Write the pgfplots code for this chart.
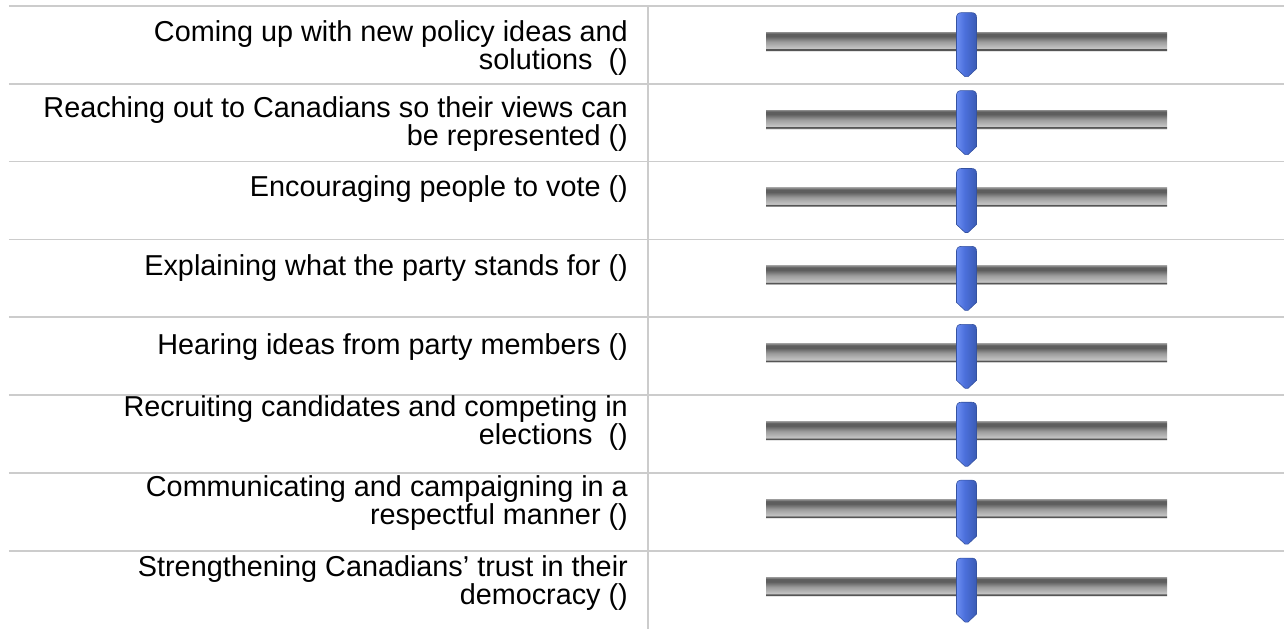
\documentclass[border=0pt]{standalone}
\usepackage{fontspec}
\setmainfont{Liberation Sans}
\usepackage{pgfplots}
\pgfplotsset{compat=1.18}

\definecolor{rulegray}{HTML}{CCCCCC}
\definecolor{thumbline}{HTML}{3552A0}
\definecolor{thumbL}{HTML}{6C8EF2}
\definecolor{thumbM}{HTML}{4C70DC}
\definecolor{thumbR}{HTML}{3A5BB4}
\definecolor{trkTop}{HTML}{8A8A8A}
\definecolor{trkDark}{HTML}{5E5E5E}
\definecolor{trkMid}{HTML}{9C9C9C}
\definecolor{trkLight}{HTML}{C4C4C4}
\definecolor{trkEdge}{HTML}{555555}
\definecolor{trkGlow}{HTML}{E4E4E4}

% grey slider track, bottom (25bp) to top (75bp)
\pgfdeclareverticalshading{trackshade}{100bp}{%
  color(0bp)=(trkGlow); color(25bp)=(trkGlow); color(27bp)=(trkGlow);
  color(28bp)=(trkEdge); color(31bp)=(trkEdge); color(33bp)=(trkLight);
  color(50bp)=(trkMid); color(64bp)=(trkDark); color(71bp)=(trkDark);
  color(75bp)=(trkTop); color(100bp)=(trkTop)}
% blue thumb, left (25bp) to right (75bp)
\pgfdeclarehorizontalshading{thumbshade}{100bp}{%
  color(0bp)=(thumbL); color(25bp)=(thumbL); color(45bp)=(thumbM);
  color(75bp)=(thumbR); color(100bp)=(thumbR)}

\pgfdeclareplotmark{thumb}{%
  \pgfpathmoveto{\pgfqpoint{-10pt}{-24pt}}%
  \pgfpathlineto{\pgfqpoint{-10pt}{27pt}}%
  \pgfpathquadraticcurveto{\pgfqpoint{-10pt}{32pt}}{\pgfqpoint{-5pt}{32pt}}%
  \pgfpathlineto{\pgfqpoint{5pt}{32pt}}%
  \pgfpathquadraticcurveto{\pgfqpoint{10pt}{32pt}}{\pgfqpoint{10pt}{27pt}}%
  \pgfpathlineto{\pgfqpoint{10pt}{-24pt}}%
  \pgfpathlineto{\pgfqpoint{1.5pt}{-32pt}}%
  \pgfpathlineto{\pgfqpoint{-1.5pt}{-32pt}}%
  \pgfpathclose
  \pgfshadepath{thumbshade}{0}%
  \pgfusepath{stroke}%
}

% base anchor of a two-line label is the baseline of its last line
\tikzset{lbl/.style={anchor=base east, inner sep=0pt, align=right,
  font=\fontsize{28.8}{28}\selectfont}}

\begin{document}
\begin{tikzpicture}
\useasboundingbox (0,0) rectangle (1284pt,629pt);
\begin{axis}[
    at={(9pt,0pt)}, anchor=south west,
    scale only axis, width=1275pt, height=623.3pt,
    xmin=-188.78, xmax=129.18,
    ymin=0.5, ymax=8.5, y dir=reverse,
    axis line style={draw=none},
    xtick={-29.43}, ytick={0.5,1.5,...,7.5},
    xticklabels={}, yticklabels={},
    major tick length=0pt,
    grid=major, grid style={rulegray, line width=1.8pt},
    clip=false
]

% slider tracks (0 to 100), one plot per row so each gets its own shading
\pgfplotsinvokeforeach{1,...,8}{
  \addplot[xbar, bar width=19pt, bar shift=3pt, draw=none, shade, shading=trackshade]
      coordinates {(100,#1)};
}

% slider positions
\addplot[only marks, mark=thumb, mark options={draw=thumbline, line width=0.6pt}]
    coordinates {(50,1) (50,2) (50,3) (50,4) (50,5) (50,6) (50,7) (50,8)};

% row labels
\node[lbl, yshift=-25pt] at (axis cs:-34.41,1) {Coming up with new policy ideas and\\solutions\ \ ()};
\node[lbl, yshift=-22.9pt] at (axis cs:-34.41,2) {Reaching out to Canadians so their views can\\be represented ()};
\node[lbl, yshift=3.5pt] at (axis cs:-34.41,3) {Encouraging people to vote ()};
\node[lbl, yshift=2.5pt] at (axis cs:-34.41,4) {Explaining what the party stands for ()};
\node[lbl, yshift=1.5pt] at (axis cs:-34.41,5) {Hearing ideas from party members ()};
\node[lbl, yshift=-10.6pt] at (axis cs:-34.41,6) {Recruiting candidates and competing in\\elections\ \ ()};
\node[lbl, yshift=-12.6pt] at (axis cs:-34.41,7) {Communicating and campaigning in a\\respectful manner ()};
\node[lbl, yshift=-14.7pt] at (axis cs:-34.41,8) {Strengthening Canadians’ trust in their\\democracy ()};

\end{axis}
\end{tikzpicture}
\end{document}
